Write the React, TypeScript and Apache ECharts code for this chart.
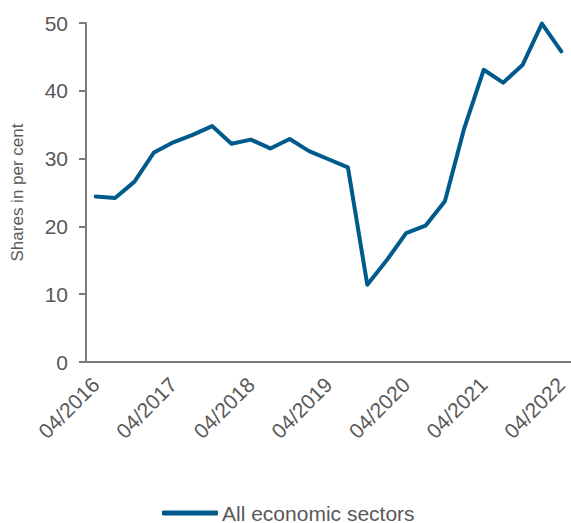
import React, { useEffect, useRef } from "react";
import * as echarts from "echarts";

const categories = [
  "04/2016", "07/2016", "10/2016", "01/2017",
  "04/2017", "07/2017", "10/2017", "01/2018",
  "04/2018", "07/2018", "10/2018", "01/2019",
  "04/2019", "07/2019", "10/2019", "01/2020",
  "04/2020", "07/2020", "10/2020", "01/2021",
  "04/2021", "07/2021", "10/2021", "01/2022",
  "04/2022",
];

const allSectors = [
  24.4, 24.2, 26.6, 30.9,
  32.4, 33.5, 34.8, 32.2,
  32.8, 31.5, 32.9, 31.1,
  29.9, 28.7, 11.4, 15.0,
  19.0, 20.1, 23.7, 34.5,
  43.1, 41.2, 43.8, 49.9,
  45.8,
];

const seriesName = "All economic sectors";
const yAxisName = "Shares in per cent";

const FONT = "'Liberation Sans', Arial, sans-serif";
const TEXT = "#595959";
const AXIS = "#7a7b7e";
const LINE = "#005b8c";

export default function App() {
  const ref = useRef<HTMLDivElement>(null);
  useEffect(() => {
    if (!ref.current) return;
    const chart = echarts.init(ref.current, null, { renderer: "svg" });
    chart.setOption({
      animation: false,
      textStyle: { fontFamily: FONT },
      grid: { left: 86, top: 23, bottom: 161, right: -6, containLabel: false },
      legend: {
        left: 157,
        top: 497,
        icon: "roundRect",
        itemWidth: 56,
        itemHeight: 5,
        itemGap: 10,
        textStyle: { fontSize: 21, lineHeight: 22, color: TEXT, fontFamily: FONT, padding: [0, 0, 0, -1] },
        data: [seriesName],
      },
      xAxis: {
        type: "category",
        data: categories,
        boundaryGap: true,
        axisLine: { lineStyle: { color: AXIS, width: 2 } },
        axisTick: { show: false },
        axisLabel: {
          interval: 3,
          rotate: 45,
          fontSize: 21,
          color: TEXT,
          fontFamily: FONT,
          margin: 19,
        },
        splitLine: { show: false },
      },
      yAxis: {
        type: "value",
        min: 0,
        max: 50,
        interval: 10,
        name: yAxisName,
        nameLocation: "middle",
        nameGap: 60,
        nameTextStyle: { fontSize: 17, color: TEXT, fontFamily: FONT },
        axisLine: { show: true, lineStyle: { color: AXIS, width: 2 } },
        axisTick: { show: true, length: 7, lineStyle: { color: AXIS, width: 2 } },
        axisLabel: { fontSize: 21, color: TEXT, fontFamily: FONT, margin: 18 },
        splitLine: { show: false },
      },
      series: [
        {
          name: seriesName,
          type: "line",
          data: allSectors,
          showSymbol: false,
          symbol: "none",
          lineStyle: { color: LINE, width: 4, cap: "round", join: "round" },
          itemStyle: { color: LINE },
        },
      ],
    });
    return () => chart.dispose();
  }, []);
  return <div ref={ref} style={{ width: 571, height: 523, position: "absolute", left: 0, top: 0 }} />;
}
